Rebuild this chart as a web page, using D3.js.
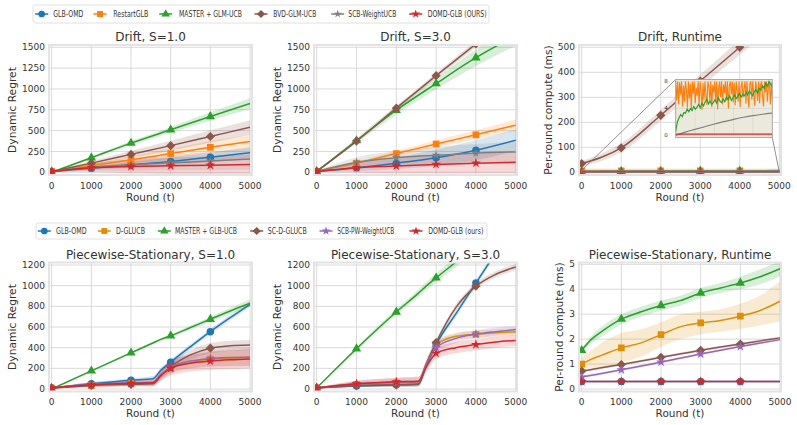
<!DOCTYPE html>
<html>
<head>
<meta charset="utf-8">
<script src="https://cdn.jsdelivr.net/npm/d3@7"></script>
<style>
  body { margin: 0; background: #fff; }
  text { font-family: "DejaVu Sans", sans-serif; fill: #333; }
</style>
</head>
<body>
<script>
// ---- rounds ----
const rounds = [0, 1000, 2000, 3000, 4000, 5000];
const roundsRt = [0, 500, 1000, 2000, 3000, 4000, 5000];
const roundsPw = [0, 1000, 2000, 2550, 2750, 3000, 3500, 4000, 4500, 5000];
const roundsPwRt = [0, 250, 500, 1000, 1500, 2000, 2500, 3000, 3500, 4000, 4500, 5000];
const xTicks = [0, 1000, 2000, 3000, 4000, 5000];

// ---- legends ----
const driftNames = ['GLB-OMD', 'RestartGLB', 'MASTER + GLM-UCB', 'BVD-GLM-UCB', 'SCB-WeightUCB', 'DOMD-GLB (OURS)'];
const pwNames = ['GLB-OMD', 'D-GLUCB', 'MASTER + GLB-UCB', 'SC-D-GLUCB', 'SCB-PW-WeightUCB', 'DOMD-GLB (ours)'];

// ---- Drift, S=1.0 ----
const d1Glbomd = [10, 50, 90, 130, 180, 235];
const d1GlbomdBand = [5, 20, 35, 45, 55, 65];
const d1Restart = [10, 80, 150, 225, 300, 370];
const d1RestartBand = [5, 25, 45, 60, 75, 85];
const d1Master = [0, 175, 350, 510, 670, 825];
const d1MasterBand = [5, 15, 25, 35, 50, 65];
const d1Bvd = [10, 110, 215, 320, 430, 540];
const d1BvdBand = [5, 25, 45, 60, 75, 85];
const d1Scb = [10, 60, 90, 115, 135, 160];
const d1ScbBand = [5, 40, 70, 90, 110, 130];
const d1Domd = [10, 55, 70, 78, 85, 95];
const d1DomdBand = [5, 50, 80, 100, 110, 120];

// ---- Drift, S=3.0 ----
const d2Glbomd = [10, 55, 110, 175, 265, 385];
const d2GlbomdBand = [5, 40, 70, 100, 120, 130];
const d2Restart = [10, 110, 225, 340, 450, 565];
const d2RestartBand = [5, 20, 35, 45, 55, 65];
const d2Master = [10, 380, 745, 1065, 1375, 1640];
const d2MasterBand = [5, 30, 50, 70, 100, 120];
const d2Bvd = [10, 375, 770, 1160, 1540, 1930];
const d2BvdBand = [5, 15, 25, 30, 40, 50];
const d2Scb = [10, 120, 175, 205, 230, 245];
const d2ScbBand = [5, 60, 80, 100, 110, 120];
const d2Domd = [10, 55, 75, 95, 110, 120];
const d2DomdBand = [5, 60, 90, 110, 120, 130];

// ---- Drift, Runtime (ms) ----
const d3Glbomd = [0.5, 0.5, 0.5, 0.5, 0.5, 0.5, 0.5];
const d3GlbomdBand = [0.2, 0.2, 0.2, 0.2, 0.2, 0.2, 0.2];
const d3Restart = [6, 6, 6, 6, 6, 6, 6];
const d3RestartBand = [9, 9, 9, 9, 9, 9, 9];
const d3Master = [0.6, 3.7, 4.0, 4.6, 5.2, 5.8, 7.3];
const d3MasterBand = [0.5, 1, 1, 1, 1, 1, 1];
const d3Bvd = [35, 60, 98, 228, 365, 500, 635];
const d3BvdBand = [10, 15, 18, 22, 26, 30, 34];
const d3Scb = [0, 0.5, 0.9, 1.7, 2.4, 2.95, 3.3];
const d3ScbBand = [0, 0.1, 0.1, 0.1, 0.1, 0.1, 0.1];
const d3Domd = [0.2, 0.2, 0.2, 0.2, 0.2, 0.2, 0.2];
const d3DomdBand = [0.05, 0.05, 0.05, 0.05, 0.05, 0.05, 0.05];

// ---- inset (ms, zoomed 0..8) ----
const insetRestart = [8, 5.2, 8, 4.6, 7.9, 6.1, 8, 4.3, 7.4, 5.0, 8, 6.8, 4.1, 8, 5.5, 7.7, 3.9, 8, 6.2, 8,
  4.8, 7.1, 5.9, 8, 4.4, 8, 6.5, 3.8, 7.8, 5.3, 8, 6.0, 4.5, 8, 7.2, 5.1, 8, 4.2, 7.5, 6.4,
  8, 5.0, 8, 3.9, 7.0, 8, 5.7, 8, 4.6, 7.6, 6.3, 8, 5.2, 8, 4.0, 7.4, 8, 6.1, 8, 4.9,
  7.8, 4.5, 8, 6.6, 5.0, 8, 4.2, 7.3, 8, 5.6, 6.9, 8, 4.7, 8, 5.9, 4.1, 7.7, 8, 5.3, 8,
  6.2, 4.4, 8, 7.0, 5.1, 8, 4.8, 7.5, 8, 5.7, 4.3, 8, 6.4, 8, 5.0, 7.2, 8, 4.6, 7.9, 5.4];
const insetMaster = [0.6, 2.0, 2.6, 3.1, 2.8, 3.4, 3.3, 3.9, 3.5, 4.0, 3.7, 4.3, 3.9, 4.2, 4.6, 4.1, 4.8, 4.4, 5.0, 5.4,
  4.7, 5.1, 4.6, 4.9, 5.3, 4.8, 5.6, 5.1, 4.9, 5.4, 5.0, 5.7, 5.3, 5.9, 5.2, 5.6, 6.0, 5.5, 5.8, 6.2,
  5.7, 6.1, 5.9, 6.4, 6.0, 6.6, 6.2, 5.9, 6.5, 6.8, 6.3, 7.0, 6.7, 7.4, 7.0, 7.8, 7.3, 8.0, 7.6, 7.2];
const insetRounds = [0, 500, 1000, 1500, 2000, 2500, 3000, 3500, 4000, 4500, 5000];
const insetScb = [0, 0.5, 0.9, 1.3, 1.7, 2.05, 2.4, 2.7, 2.95, 3.15, 3.3];
const insetDomd = [0.2, 0.2, 0.2, 0.2, 0.2, 0.2, 0.2, 0.2, 0.2, 0.2, 0.2];

// ---- Piecewise-Stationary, S=1.0 ----
const p1Glbomd = [10, 50, 85, 100, 180, 260, 410, 555, 690, 820];
const p1GlbomdBand = [3, 15, 20, 25, 25, 25, 25, 25, 25, 25];
const p1Dglucb = [10, 35, 55, 60, 130, 200, 255, 290, 298, 305];
const p1DglucbBand = [3, 15, 20, 20, 40, 50, 60, 70, 75, 80];
const p1Master = [0, 175, 350, 445, 480, 515, 595, 675, 755, 830];
const p1MasterBand = [3, 8, 10, 12, 14, 15, 20, 25, 30, 35];
const p1Scd = [10, 35, 45, 50, 130, 215, 330, 395, 418, 425];
const p1ScdBand = [3, 10, 15, 20, 30, 40, 45, 50, 50, 50];
const p1Scbpw = [10, 45, 60, 65, 140, 210, 270, 295, 305, 310];
const p1ScbpwBand = [3, 20, 25, 30, 50, 60, 70, 80, 85, 90];
const p1Domd = [10, 40, 55, 60, 130, 200, 250, 270, 282, 290];
const p1DomdBand = [3, 25, 30, 35, 55, 70, 80, 85, 90, 90];

// ---- Piecewise-Stationary, S=3.0 ----
const p2Glbomd = [10, 30, 40, 45, 220, 430, 730, 1025, 1320, 1610];
const p2GlbomdBand = [3, 10, 15, 20, 25, 30, 30, 30, 30, 30];
const p2Dglucb = [10, 45, 60, 65, 240, 430, 510, 530, 545, 555];
const p2DglucbBand = [3, 20, 25, 25, 35, 40, 35, 35, 35, 35];
const p2Master = [10, 390, 745, 925, 995, 1075, 1230, 1390, 1540, 1700];
const p2MasterBand = [3, 20, 30, 35, 40, 45, 50, 55, 60, 65];
const p2Scd = [10, 35, 40, 45, 240, 450, 790, 995, 1110, 1180];
const p2ScdBand = [3, 15, 20, 20, 25, 30, 30, 30, 30, 30];
const p2Scbpw = [10, 50, 65, 70, 230, 400, 490, 530, 555, 575];
const p2ScbpwBand = [3, 30, 40, 45, 50, 55, 45, 40, 40, 40];
const p2Domd = [10, 50, 70, 75, 210, 345, 400, 430, 455, 470];
const p2DomdBand = [3, 30, 40, 45, 50, 55, 55, 55, 55, 55];

// ---- Piecewise-Stationary, Runtime (ms) ----
const p3Glbomd = [0.3, 0.3, 0.3, 0.3, 0.3, 0.3, 0.3, 0.3, 0.3, 0.3, 0.3, 0.3];
const p3GlbomdBand = [0.02, 0.02, 0.02, 0.02, 0.02, 0.02, 0.02, 0.02, 0.02, 0.02, 0.02, 0.02];
const p3Dglucb = [1.0, 1.2, 1.35, 1.65, 1.85, 2.18, 2.5, 2.65, 2.75, 2.92, 3.15, 3.52];
const p3DglucbBand = [0.25, 0.35, 0.5, 0.6, 0.55, 0.5, 0.5, 0.45, 0.45, 0.5, 0.6, 0.8];
const p3Master = [1.55, 2.0, 2.3, 2.8, 3.1, 3.35, 3.55, 3.85, 4.05, 4.25, 4.5, 4.82];
const p3MasterBand = [0.1, 0.15, 0.2, 0.2, 0.2, 0.2, 0.2, 0.2, 0.2, 0.25, 0.3, 0.3];
const p3Scd = [0.72, 0.78, 0.85, 0.98, 1.12, 1.27, 1.41, 1.55, 1.68, 1.8, 1.93, 2.05];
const p3ScdBand = [0.05, 0.05, 0.05, 0.05, 0.05, 0.05, 0.05, 0.05, 0.05, 0.05, 0.05, 0.05];
const p3Scbpw = [0.48, 0.55, 0.62, 0.77, 0.92, 1.08, 1.24, 1.4, 1.55, 1.7, 1.84, 1.98];
const p3ScbpwBand = [0.05, 0.05, 0.05, 0.05, 0.05, 0.05, 0.05, 0.05, 0.05, 0.05, 0.05, 0.05];
const p3Domd = [0.3, 0.3, 0.3, 0.3, 0.3, 0.3, 0.3, 0.3, 0.3, 0.3, 0.3, 0.3];
const p3DomdBand = [0.02, 0.02, 0.02, 0.02, 0.02, 0.02, 0.02, 0.02, 0.02, 0.02, 0.02, 0.02];

// marker shapes
const diamond = { draw(ctx, size) { const r = Math.sqrt(size / 2); ctx.moveTo(0, -r); ctx.lineTo(r, 0); ctx.lineTo(0, r); ctx.lineTo(-r, 0); ctx.closePath(); } };
const driftStyle = [
  { color: '#1f77b4', sym: d3.symbolCircle, size: 44 },
  { color: '#ff7f0e', sym: d3.symbolSquare, size: 44 },
  { color: '#2ca02c', sym: d3.symbolTriangle, size: 38 },
  { color: '#8c564b', sym: diamond, size: 42 },
  { color: '#7f7f7f', sym: d3.symbolStar, size: 24 },
  { color: '#d62728', sym: d3.symbolStar, size: 30 },
];
const pwStyle = [
  { color: '#1f77b4', sym: d3.symbolCircle, size: 44 },
  { color: '#de8f05', sym: d3.symbolSquare, size: 44 },
  { color: '#2ca02c', sym: d3.symbolTriangle, size: 38 },
  { color: '#8c564b', sym: diamond, size: 42 },
  { color: '#9467bd', sym: d3.symbolStar, size: 30 },
  { color: '#d62728', sym: d3.symbolStar, size: 30 },
];

const svg = d3.select('body').append('svg').attr('width', 797).attr('height', 425);
let clipId = 0;

function panel(cfg) {
  const g = svg.append('g');
  const f = cfg.frame;
  const x = d3.scaleLinear().domain([0, 5000]).range(cfg.xr);
  const y = d3.scaleLinear().domain([0, cfg.yMax]).range(cfg.yr);
  const id = 'clip' + (clipId++);
  g.append('clipPath').attr('id', id).append('rect')
    .attr('x', f.l).attr('y', f.t).attr('width', f.r - f.l).attr('height', f.b - f.t);

  // grid
  g.selectAll('line.gx').data(xTicks).enter().append('line')
    .attr('x1', (d) => x(d)).attr('x2', (d) => x(d)).attr('y1', f.t).attr('y2', f.b)
    .style('stroke', '#dadada').style('stroke-width', 1);
  g.selectAll('line.gy').data(cfg.yTicks).enter().append('line')
    .attr('x1', f.l).attr('x2', f.r).attr('y1', (d) => y(d)).attr('y2', (d) => y(d))
    .style('stroke', '#dadada').style('stroke-width', 1);

  // tick labels
  g.selectAll('text.tx').data(xTicks).enter().append('text')
    .attr('x', (d) => x(d)).attr('y', f.b + 13.5).attr('text-anchor', 'middle')
    .style('font-size', '9px').text((d) => d);
  g.selectAll('text.ty').data(cfg.yTicks).enter().append('text')
    .attr('x', f.l - 4).attr('y', (d) => y(d)).attr('dy', '0.35em').attr('text-anchor', 'end')
    .style('font-size', '9px').text((d) => d);

  const plot = g.append('g').attr('clip-path', `url(#${id})`);
  const area = d3.area().curve(d3.curveMonotoneX)
    .x((d) => x(d.t)).y0((d) => y(d.v - d.h)).y1((d) => y(d.v + d.h));
  const line = d3.line().curve(d3.curveMonotoneX).x((d) => x(d.t)).y((d) => y(d.v));

  const series = cfg.series.map((s) => s.values.map((v, i) => ({ t: cfg.xs[i], v, h: s.band[i] })));
  series.forEach((pts, k) => {
    plot.append('path').attr('d', area(pts))
      .style('fill', cfg.style[k].color).style('opacity', 0.18);
  });
  series.forEach((pts, k) => {
    const st = cfg.style[k];
    plot.append('path').attr('d', line(pts))
      .style('fill', 'none').style('stroke', st.color).style('stroke-width', 1.5);
    plot.selectAll(null).data(pts.filter((p) => p.t % 1000 === 0 && p.t <= 4000)).enter()
      .append('path')
      .attr('d', d3.symbol().type(st.sym).size(st.size))
      .attr('transform', (p) => `translate(${x(p.t)},${y(p.v)})`)
      .style('fill', st.color);
  });

  // frame
  g.append('rect').attr('x', f.l).attr('y', f.t).attr('width', f.r - f.l).attr('height', f.b - f.t)
    .style('fill', 'none').style('stroke', '#e3e3e3').style('stroke-width', 2);

  // titles / labels
  g.append('text').attr('x', (f.l + f.r) / 2).attr('y', f.t - 4).attr('text-anchor', 'middle')
    .style('font-size', '12px').text(cfg.title);
  g.append('text').attr('x', (f.l + f.r) / 2).attr('y', f.b + 25.5).attr('text-anchor', 'middle')
    .style('font-size', '10.5px').text('Round (t)');
  g.append('text').attr('transform', `translate(${cfg.ylx},${(f.t + f.b) / 2}) rotate(-90)`)
    .attr('dy', '0.35em').attr('text-anchor', 'middle')
    .style('font-size', '10.7px').text(cfg.ylabel);
  return { g, x, y };
}

function legend(names, style, box, marks, texts, widths) {
  const g = svg.append('g');
  g.append('rect').attr('x', box.l).attr('y', box.t).attr('width', box.r - box.l).attr('height', box.b - box.t)
    .attr('rx', 2).style('fill', '#fff').style('stroke', '#d8d8d8').style('stroke-width', 0.8);
  const cy = (box.t + box.b) / 2;
  names.forEach((n, i) => {
    const st = style[i];
    g.append('line').attr('x1', marks[i] - 6.5).attr('x2', marks[i] + 6.5).attr('y1', cy).attr('y2', cy)
      .style('stroke', st.color).style('stroke-width', 1.5);
    g.append('path').attr('d', d3.symbol().type(st.sym).size(st.size * 0.8))
      .attr('transform', `translate(${marks[i]},${cy})`).style('fill', st.color);
    g.append('text').attr('x', texts[i]).attr('y', cy).attr('dy', '0.35em')
      .attr('textLength', widths[i]).attr('lengthAdjust', 'spacingAndGlyphs')
      .style('font-size', '9px').text(n);
  });
}

const topF = { t: 45, b: 175 };
const botF = { t: 262.5, b: 391.5 };

panel({
  frame: { l: 49, r: 252, ...topF }, xr: [51.7, 250], yr: [172.3, 47.3], yMax: 1500,
  yTicks: [0, 250, 500, 750, 1000, 1250, 1500], title: 'Drift, S=1.0', ylabel: 'Dynamic Regret', ylx: 12,
  xs: rounds, style: driftStyle,
  series: [
    { values: d1Glbomd, band: d1GlbomdBand }, { values: d1Restart, band: d1RestartBand },
    { values: d1Master, band: d1MasterBand }, { values: d1Bvd, band: d1BvdBand },
    { values: d1Scb, band: d1ScbBand }, { values: d1Domd, band: d1DomdBand }],
});
panel({
  frame: { l: 314, r: 517, ...topF }, xr: [316.7, 515.7], yr: [172.3, 47.3], yMax: 1500,
  yTicks: [0, 250, 500, 750, 1000, 1250, 1500], title: 'Drift, S=3.0', ylabel: 'Dynamic Regret', ylx: 277,
  xs: rounds, style: driftStyle,
  series: [
    { values: d2Glbomd, band: d2GlbomdBand }, { values: d2Restart, band: d2RestartBand },
    { values: d2Master, band: d2MasterBand }, { values: d2Bvd, band: d2BvdBand },
    { values: d2Scb, band: d2ScbBand }, { values: d2Domd, band: d2DomdBand }],
});
const rt = panel({
  frame: { l: 579, r: 781, ...topF }, xr: [581.7, 779.3], yr: [172.3, 47.3], yMax: 500,
  yTicks: [0, 100, 200, 300, 400, 500], title: 'Drift, Runtime', ylabel: 'Per-round compute (ms)', ylx: 548,
  xs: roundsRt, style: driftStyle,
  series: [
    { values: d3Glbomd, band: d3GlbomdBand }, { values: d3Restart, band: d3RestartBand },
    { values: d3Master, band: d3MasterBand }, { values: d3Bvd, band: d3BvdBand },
    { values: d3Scb, band: d3ScbBand }, { values: d3Domd, band: d3DomdBand }],
});
panel({
  frame: { l: 49, r: 252, ...botF }, xr: [51.7, 250], yr: [389, 265], yMax: 1200,
  yTicks: [0, 200, 400, 600, 800, 1000, 1200], title: 'Piecewise-Stationary, S=1.0', ylabel: 'Dynamic Regret', ylx: 12,
  xs: roundsPw, style: pwStyle,
  series: [
    { values: p1Glbomd, band: p1GlbomdBand }, { values: p1Dglucb, band: p1DglucbBand },
    { values: p1Master, band: p1MasterBand }, { values: p1Scd, band: p1ScdBand },
    { values: p1Scbpw, band: p1ScbpwBand }, { values: p1Domd, band: p1DomdBand }],
});
panel({
  frame: { l: 314, r: 517, ...botF }, xr: [316.7, 515.7], yr: [389, 265], yMax: 1200,
  yTicks: [0, 200, 400, 600, 800, 1000, 1200], title: 'Piecewise-Stationary, S=3.0', ylabel: 'Dynamic Regret', ylx: 277,
  xs: roundsPw, style: pwStyle,
  series: [
    { values: p2Glbomd, band: p2GlbomdBand }, { values: p2Dglucb, band: p2DglucbBand },
    { values: p2Master, band: p2MasterBand }, { values: p2Scd, band: p2ScdBand },
    { values: p2Scbpw, band: p2ScbpwBand }, { values: p2Domd, band: p2DomdBand }],
});
panel({
  frame: { l: 579, r: 781, ...botF }, xr: [581.7, 780], yr: [389, 264.3], yMax: 5,
  yTicks: [0, 1, 2, 3, 4, 5], title: 'Piecewise-Stationary, Runtime', ylabel: 'Per-round compute (ms)', ylx: 559,
  xs: roundsPwRt, style: pwStyle,
  series: [
    { values: p3Glbomd, band: p3GlbomdBand }, { values: p3Dglucb, band: p3DglucbBand },
    { values: p3Master, band: p3MasterBand }, { values: p3Scd, band: p3ScdBand },
    { values: p3Scbpw, band: p3ScbpwBand }, { values: p3Domd, band: p3DomdBand }],
});

// inset zoom on the runtime panel
const ib = { l: 675.7, r: 772.3, t: 79.5, b: 137.5 };
const ix = d3.scaleLinear().domain([0, 5000]).range([ib.l, ib.r]);
const iy = d3.scaleLinear().domain([-0.3, 8.3]).range([ib.b, ib.t]);
// indicator box + connectors
rt.g.append('rect').attr('x', rt.x(0)).attr('y', rt.y(8)).attr('width', rt.x(5000) - rt.x(0))
  .attr('height', rt.y(0) - rt.y(8)).style('fill', 'none').style('stroke', '#888').style('stroke-width', 0.8);
rt.g.append('line').attr('x1', ib.l).attr('y1', ib.t).attr('x2', rt.x(0)).attr('y2', rt.y(8))
  .style('stroke', '#777').style('stroke-width', 0.8);
rt.g.append('line').attr('x1', ib.r).attr('y1', ib.b).attr('x2', rt.x(5000)).attr('y2', rt.y(0))
  .style('stroke', '#777').style('stroke-width', 0.8);
const ig = svg.append('g');
ig.append('clipPath').attr('id', 'insetClip').append('rect')
  .attr('x', ib.l).attr('y', ib.t).attr('width', ib.r - ib.l).attr('height', ib.b - ib.t);
ig.append('rect').attr('x', ib.l).attr('y', ib.t).attr('width', ib.r - ib.l).attr('height', ib.b - ib.t)
  .style('fill', '#ebe9dc');
ig.selectAll(null).data([1000, 2000, 3000, 4000]).enter().append('line')
  .attr('x1', (d) => ix(d)).attr('x2', (d) => ix(d)).attr('y1', ib.t).attr('y2', ib.b)
  .style('stroke', '#d6d4c6').style('stroke-width', 0.6);
ig.selectAll(null).data([0, 4, 8]).enter().append('line')
  .attr('x1', ib.l).attr('x2', ib.r).attr('y1', (d) => iy(d)).attr('y2', (d) => iy(d))
  .style('stroke', '#d6d4c6').style('stroke-width', 0.6);
const ip = ig.append('g').attr('clip-path', 'url(#insetClip)');
const idxR = d3.scaleLinear().domain([0, insetRestart.length - 1]).range([ib.l, ib.r]);
const idxM = d3.scaleLinear().domain([0, insetMaster.length - 1]).range([ib.l, ib.r]);
ip.append('path').attr('d', d3.line().x((d, i) => idxR(i)).y((d) => iy(d))(insetRestart))
  .style('fill', 'none').style('stroke', '#ff7f0e').style('stroke-width', 1.1);
ip.append('path').attr('d', d3.line().x((d, i) => idxM(i)).y((d) => iy(d))(insetMaster))
  .style('fill', 'none').style('stroke', '#2ca02c').style('stroke-width', 1.2);
const smooth = d3.line().curve(d3.curveMonotoneX).x((d, i) => ix(insetRounds[i])).y((d) => iy(d));
ip.append('path').attr('d', smooth(insetScb)).style('fill', 'none').style('stroke', '#7f7f7f').style('stroke-width', 1.2);
ip.append('path').attr('d', smooth(insetDomd)).style('fill', 'none').style('stroke', '#d62728').style('stroke-width', 1.4);
ig.append('rect').attr('x', ib.l).attr('y', ib.t).attr('width', ib.r - ib.l).attr('height', ib.b - ib.t)
  .style('fill', 'none').style('stroke', '#999').style('stroke-width', 0.8);
ig.selectAll(null).data([0, 4, 8]).enter().append('text')
  .attr('x', ib.l - 8).attr('y', (d) => iy(d)).attr('dy', '0.35em').attr('text-anchor', 'end')
  .style('font-size', '5.5px').text((d) => d);

legend(driftNames, driftStyle, { l: 33, r: 489, t: 5, b: 23 },
  [41.7, 100, 165.7, 261, 337.7, 415.7], [53.3, 113.3, 179, 273.3, 348.3, 427.7],
  [30, 35, 63, 43, 48, 59]);
legend(pwNames, pwStyle, { l: 36, r: 487, t: 223, b: 239 },
  [44.3, 104.3, 164.3, 256.7, 326, 416], [56, 116, 175, 267.7, 337.3, 428.3],
  [30.5, 29, 62, 39, 57, 55]);
</script>
</body>
</html>
